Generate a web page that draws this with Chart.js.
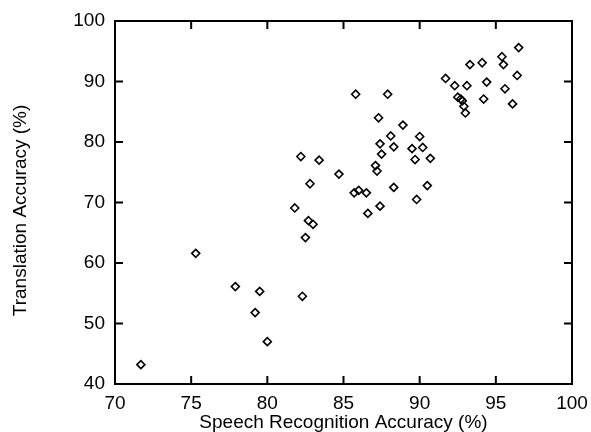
<!DOCTYPE html>
<html>
<head>
<meta charset="utf-8">
<script src="https://cdn.jsdelivr.net/npm/chart.js@4/dist/chart.umd.min.js"></script>
<style>
html,body{margin:0;padding:0;background:#fff;}
#wrap{width:591px;height:432px;}
</style>
</head>
<body>
<div id="wrap"><canvas id="c" width="591" height="432"></canvas></div>
<script>
// Speech recognition accuracy (%) per test set
const speechAcc = [
  71.7, 75.3, 77.9, 79.5, 79.2, 80.0, 82.3, 81.8, 82.5, 82.7, 83.0, 82.2, 83.4, 82.8, 84.7,
  85.7, 86.0, 86.5, 86.6, 87.4, 88.3, 89.8, 90.5, 87.1, 87.2, 87.5, 87.4, 88.3, 88.1, 87.3,
  88.9, 85.8, 87.9, 90.0, 89.5, 90.2, 89.7, 90.7,
  91.7, 92.3, 93.1, 93.3, 94.1, 95.4, 95.5, 96.5, 96.4, 94.4, 95.6, 94.2, 96.1,
  92.5, 92.7, 92.8, 92.9, 93.0
];
// Translation accuracy (%) for the same test sets
const translationAcc = [
  43.2, 61.6, 56.1, 55.3, 51.8, 47.0, 54.5, 69.1, 64.2, 67.0, 66.4, 77.6, 77.0, 73.1, 74.7,
  71.6, 72.0, 71.6, 68.2, 69.4, 72.5, 70.5, 72.8, 76.1, 75.2, 78.0, 79.7, 79.2, 81.0, 84.0,
  82.8, 87.9, 87.9, 80.9, 78.9, 79.1, 77.1, 77.3,
  90.5, 89.3, 89.3, 92.8, 93.1, 94.1, 92.8, 95.6, 91.0, 89.9, 88.8, 87.1, 86.3,
  87.4, 87.1, 86.8, 85.9, 84.8
];
const xTicks = [70, 75, 80, 85, 90, 95, 100];
const yTicks = [40, 50, 60, 70, 80, 90, 100];
const xTitle = 'Speech Recognition Accuracy (%)';
const yTitle = 'Translation Accuracy (%)   ';

const points = speechAcc.map((x, i) => ({x: x, y: translationAcc[i]}));
const FONT = '"Liberation Sans", Arial, Helvetica, sans-serif';

const framePlugin = {
  id: 'frame',
  afterDraw(chart) {
    const {ctx, chartArea: a, scales: {x, y}} = chart;
    const L = 8;
    ctx.save();
    ctx.strokeStyle = '#000';
    ctx.lineWidth = 2;
    ctx.beginPath();
    xTicks.forEach(v => {
      const px = x.getPixelForValue(v);
      ctx.moveTo(px, a.bottom); ctx.lineTo(px, a.bottom - L);
      ctx.moveTo(px, a.top); ctx.lineTo(px, a.top + L);
    });
    yTicks.forEach(v => {
      const py = y.getPixelForValue(v);
      ctx.moveTo(a.left, py); ctx.lineTo(a.left + L, py);
      ctx.moveTo(a.right, py); ctx.lineTo(a.right - L, py);
    });
    ctx.stroke();
    ctx.strokeRect(a.left, a.top, a.right - a.left, a.bottom - a.top);
    ctx.restore();
  }
};

new Chart(document.getElementById('c'), {
  type: 'scatter',
  data: {
    datasets: [{
      data: points,
      pointStyle: 'rectRot',
      pointRadius: 4,
      pointHoverRadius: 4,
      pointBorderWidth: 1.6,
      borderColor: '#000',
      backgroundColor: 'rgba(255,255,255,0)'
    }]
  },
  options: {
    responsive: false,
    animation: false,
    devicePixelRatio: 1,
    layout: {padding: {left: 0, right: 19, top: 21, bottom: 0}},
    plugins: {legend: {display: false}, tooltip: {enabled: false}},
    scales: {
      x: {
        type: 'linear', min: 70, max: 100,
        afterBuildTicks(s) { s.ticks = xTicks.map(v => ({value: v})); },
        afterFit(s) { s.height = 48; s.paddingLeft = 0; s.paddingRight = 0; },
        grid: {display: false, drawTicks: false},
        border: {display: false},
        ticks: {color: '#000', padding: 8, font: {family: FONT, size: 19}, maxRotation: 0},
        title: {display: true, text: xTitle, color: '#000', padding: {top: 0, bottom: 0},
                font: {family: FONT, size: 19, lineHeight: 1}}
      },
      y: {
        type: 'linear', min: 40, max: 100,
        afterBuildTicks(s) { s.ticks = yTicks.map(v => ({value: v})); },
        afterFit(s) { s.width = 115; s.paddingTop = 0; s.paddingBottom = 0; },
        grid: {display: false, drawTicks: false},
        border: {display: false},
        ticks: {color: '#000', padding: 10, font: {family: FONT, size: 19}},
        title: {display: true, text: yTitle, color: '#000', padding: {top: 11, bottom: 0},
                font: {family: FONT, size: 19, lineHeight: 1}}
      }
    }
  },
  plugins: [framePlugin]
});
</script>
</body>
</html>
